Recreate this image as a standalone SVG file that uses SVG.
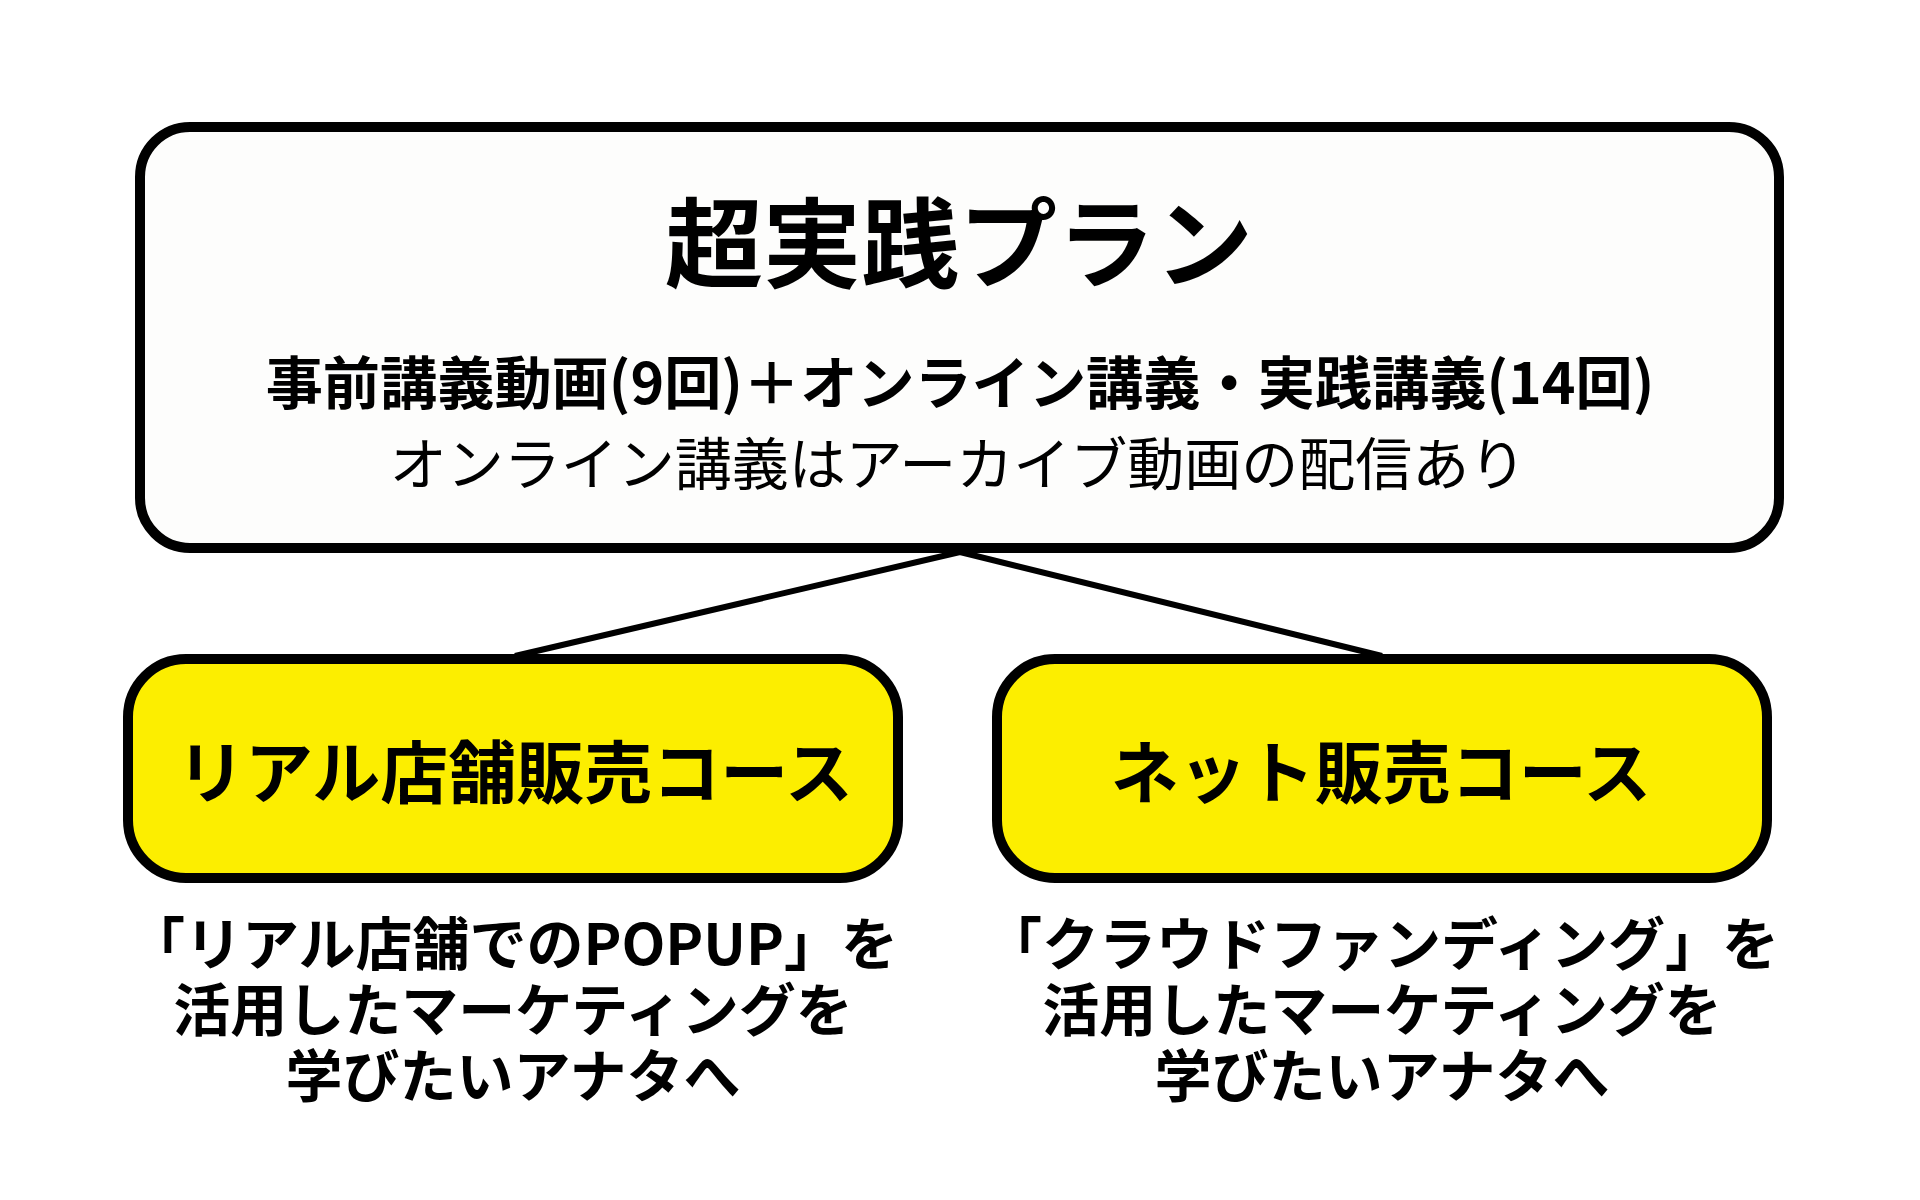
<svg xmlns="http://www.w3.org/2000/svg" width="1920" height="1200" viewBox="0 0 1920 1200">
<style>
.t{font-family:"Noto Sans CJK JP","Noto Sans CJK SC",sans-serif;fill:#000;text-anchor:middle}
.b{font-weight:700}
.r{font-weight:400}
.box{stroke:#000;stroke-width:10}
.top{fill:#FDFDFC}
.yel{fill:#FCEE00}
.conn{stroke:#000;stroke-width:6;fill:none}
.d{font-size:57px}
</style>
<rect width="1920" height="1200" fill="#FFFFFF"/>
<g id="connectors">
<line class="conn" x1="960" y1="552" x2="515" y2="656"/>
<line class="conn" x1="960" y1="552" x2="1382" y2="656"/>
</g>
<g id="plan">
<rect class="box top" x="140" y="127" width="1639" height="421" rx="50" ry="50"/>
<text class="t b" x="959" y="280" font-size="98">超実践プラン</text>
<text class="t b" x="960" y="404" font-size="57.2">事前講義動画(9回)＋オンライン講義・実践講義(14回)</text>
<text class="t r" x="958" y="485" font-size="57">オンライン講義はアーカイブ動画の配信あり</text>
</g>
<g id="real">
<rect class="box yel" x="128" y="659" width="770" height="219" rx="58" ry="58"/>
<text class="t b" x="515" y="798" font-size="68">リアル店舗販売コース</text>
</g>
<g id="net">
<rect class="box yel" x="997" y="659" width="770" height="219" rx="58" ry="58"/>
<text class="t b" x="1381" y="798" font-size="68">ネット販売コース</text>
</g>
<g id="real-desc">
<text class="t b d" x="513" y="965">「リアル店舗でのPOPUP」を</text>
<text class="t b d" x="513" y="1031">活用したマーケティングを</text>
<text class="t b d" x="513" y="1097">学びたいアナタへ</text>
</g>
<g id="net-desc">
<text class="t b d" x="1382" y="965">「クラウドファンディング」を</text>
<text class="t b d" x="1382" y="1031">活用したマーケティングを</text>
<text class="t b d" x="1382" y="1097">学びたいアナタへ</text>
</g>
</svg>
